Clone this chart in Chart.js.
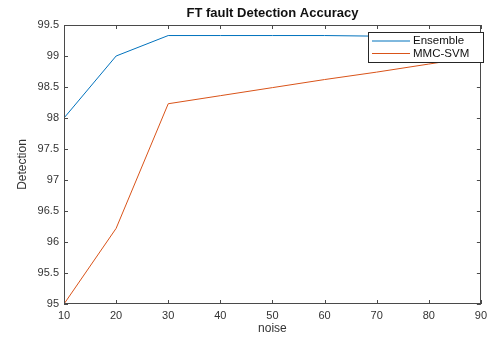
<!DOCTYPE html>
<html>
<head>
<meta charset="utf-8">
<script src="https://cdn.jsdelivr.net/npm/chart.js@4/dist/chart.umd.min.js"></script>
<style>
  html, body { margin: 0; padding: 0; background: #fff; }
  canvas { display: block; }
</style>
</head>
<body>
<canvas id="chart" width="492" height="338"></canvas>
<script>
// data
const noise = [10, 20, 30, 40, 50, 60, 70, 80, 90];
const ensemble = [98.0, 99.0, 99.33, 99.33, 99.33, 99.33, 99.32, 99.32, 99.32];
const mmcSvm = [95.0, 96.22, 98.23, 98.36, 98.49, 98.62, 98.74, 98.87, 99.0];
const xTicks = [10, 20, 30, 40, 50, 60, 70, 80, 90];
const yTicks = [95, 95.5, 96, 96.5, 97, 97.5, 98, 98.5, 99, 99.5];

const axisColor = '#4a4a4a';
const textColor = '#333';
const fontFamily = '"Liberation Sans", Arial, Helvetica, sans-serif';

// matlab style: box, inward ticks, title, legend inside
const matlabBox = {
  id: 'matlabBox',
  afterDraw(chart) {
    const ctx = chart.ctx;
    const a = chart.chartArea;
    const xs = chart.scales.x, ys = chart.scales.y;
    const tl = 4;
    ctx.save();
    ctx.strokeStyle = axisColor;
    ctx.lineWidth = 1;
    ctx.strokeRect(Math.round(a.left) + 0.5, Math.round(a.top) + 0.5,
      Math.round(a.right - a.left) - 1, Math.round(a.bottom - a.top) - 1);
    ctx.beginPath();
    xTicks.forEach(v => {
      const px = Math.round(xs.getPixelForValue(v)) + 0.5;
      ctx.moveTo(px, a.bottom); ctx.lineTo(px, a.bottom - tl);
      ctx.moveTo(px, a.top); ctx.lineTo(px, a.top + tl);
    });
    yTicks.forEach(v => {
      const py = Math.round(ys.getPixelForValue(v)) + 0.5;
      ctx.moveTo(a.left, py); ctx.lineTo(a.left + tl, py);
      ctx.moveTo(a.right, py); ctx.lineTo(a.right - tl, py);
    });
    ctx.stroke();

    // title
    ctx.fillStyle = '#111';
    ctx.font = 'bold 13px ' + fontFamily;
    ctx.textAlign = 'center';
    ctx.textBaseline = 'middle';
    ctx.fillText('FT fault Detection Accuracy', (a.left + a.right) / 2, 13);

    // legend
    const lx = 368, ly = 32, lw = 115, lh = 30;
    ctx.fillStyle = '#fff';
    ctx.fillRect(lx, ly, lw, lh);
    ctx.strokeStyle = '#262626';
    ctx.strokeRect(lx + 0.5, ly + 0.5, lw, lh);
    ctx.font = '11.5px ' + fontFamily;
    ctx.textAlign = 'left';
    chart.data.datasets.forEach((ds, i) => {
      const y = ly + 9 + i * 12.5;
      ctx.strokeStyle = ds.borderColor;
      ctx.beginPath();
      ctx.moveTo(372, y); ctx.lineTo(410, y);
      ctx.stroke();
      ctx.fillStyle = '#111';
      ctx.fillText(ds.label, 413, y);
    });
    ctx.restore();
  }
};

new Chart('chart', {
  type: 'line',
  data: {
    datasets: [
      {
        label: 'Ensemble',
        data: noise.map((x, i) => ({x: x, y: ensemble[i]})),
        borderColor: '#0072BD',
        borderWidth: 1,
        pointRadius: 0,
        tension: 0,
      },
      {
        label: 'MMC-SVM',
        data: noise.map((x, i) => ({x: x, y: mmcSvm[i]})),
        borderColor: '#D95319',
        borderWidth: 1,
        pointRadius: 0,
        tension: 0,
      },
    ],
  },
  options: {
    responsive: false,
    devicePixelRatio: 1,
    animation: false,
    layout: { padding: { top: 25, right: 8, left: 0, bottom: 0 } },
    plugins: {
      legend: { display: false },
      title: { display: false },
      tooltip: { enabled: false },
    },
    scales: {
      x: {
        type: 'linear',
        min: 10,
        max: 90,
        afterFit: (s) => { s.height = 34; },
        afterBuildTicks: (s) => { s.ticks = xTicks.map(v => ({value: v})); },
        grid: { display: false, drawTicks: false },
        border: { display: false },
        ticks: { padding: 5, color: textColor, font: { family: fontFamily, size: 11 }, maxRotation: 0,
          callback: (v) => v.toString() },
        title: { display: true, text: 'noise', color: textColor, padding: { top: 0, bottom: 2 },
          font: { family: fontFamily, size: 12 } },
      },
      y: {
        type: 'linear',
        min: 95,
        max: 99.5,
        afterFit: (s) => { s.width = 64; },
        afterBuildTicks: (s) => { s.ticks = yTicks.map(v => ({value: v})); },
        grid: { display: false, drawTicks: false },
        border: { display: false },
        ticks: { padding: 5, color: textColor, font: { family: fontFamily, size: 11 },
          callback: (v) => v.toString() },
        title: { display: true, text: 'Detection', color: textColor, padding: { top: 15, bottom: 0 },
          font: { family: fontFamily, size: 12 } },
      },
    },
  },
  plugins: [matlabBox],
});
</script>
</body>
</html>
